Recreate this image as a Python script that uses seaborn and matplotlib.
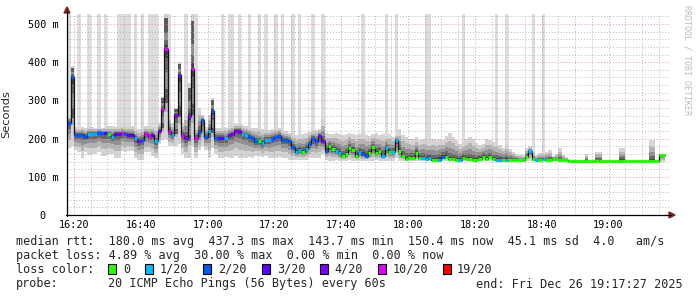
import numpy as np
import pandas as pd
import matplotlib
matplotlib.use("Agg")
import matplotlib.pyplot as plt
from matplotlib.patches import Rectangle, Polygon
import seaborn as sns

# ---------------- data (one value per minute, starting 16:18) ----------------
start_minute = 18  # minutes after 16:00

median_ms = [
    242, 362, 209, 209, 210, 205, 212, 212, 212, 215, 215, 215, 212, 205, 212, 212, 214, 212, 210, 210,
    201, 193, 196, 212, 206, 210, 193, 220, 278, 434, 220, 210, 262, 366, 210, 201, 259, 382, 202, 217,
    249, 205, 220, 273, 202, 202, 202, 201, 210, 213, 220, 220, 213, 210, 205, 201, 193, 193, 188, 197,
    197, 200, 204, 207, 197, 197, 193, 178, 165, 170, 166, 173, 186, 200, 193, 207, 194, 168, 180, 173,
    168, 162, 155, 160, 175, 170, 154, 164, 160, 155, 162, 177, 162, 168, 155, 175, 164, 164, 196, 168,
    154, 147, 149, 149, 162, 149, 149, 147, 149, 144, 144, 145, 153, 153, 146, 146, 144, 144, 149, 146,
    146, 144, 144, 147, 153, 147, 153, 147, 144, 144, 144, 144, 144, 144, 144, 144, 144, 153, 167, 146,
    144, 144, 147, 144, 144, 147, 147, 144, 144, 144, 142, 142, 142, 142, 142, 142, 142, 142, 142, 142,
    142, 142, 142, 142, 142, 142, 142, 142, 142, 142, 142, 142, 142, 142, 142, 142, 142, 157, 157,
]

lost_pings = [
    2, 2, 2, 2, 2, 2, 1, 1, 1, 2, 2, 3, 0, 1, 3, 3, 10, 2, 3, 3,
    1, 4, 2, 10, 10, 3, 1, 4, 10, 10, 10, 1, 4, 4, 10, 4, 4, 10, 10, 2,
    2, 2, 1, 2, 2, 3, 3, 1, 4, 4, 4, 4, 1, 1, 2, 2, 2, 0, 1, 1,
    1, 2, 2, 2, 2, 2, 2, 2, 1, 1, 0, 1, 2, 2, 2, 4, 4, 2, 0, 0,
    1, 1, 0, 0, 0, 0, 0, 1, 2, 2, 0, 0, 0, 0, 1, 1, 0, 1, 1, 0,
    0, 0, 0, 0, 0, 0, 1, 1, 1, 0, 0, 1, 2, 0, 0, 0, 0, 1, 0, 0,
    0, 0, 0, 0, 0, 0, 0, 0, 1, 1, 0, 1, 0, 0, 0, 0, 0, 0, 1, 0,
    1, 0, 1, 0, 0, 0, 0, 0, 0, 0, 0, 0, 0, 0, 0, 0, 0, 0, 0, 0,
    0, 0, 0, 0, 0, 0, 0, 0, 0, 0, 0, 0, 0, 0, 0, 0, 0, 0, 0,
]

smoke_low_ms = [
    175, 180, 170, 165, 150, 165, 158, 160, 160, 165, 155, 155, 160, 160, 150, 150, 168, 165, 168, 168,
    150, 145, 145, 165, 165, 155, 150, 185, 195, 200, 180, 180, 180, 185, 160, 150, 150, 180, 150, 170,
    180, 170, 150, 175, 160, 150, 150, 152, 150, 150, 155, 150, 150, 150, 152, 150, 155, 155, 152, 155,
    150, 150, 150, 152, 150, 150, 145, 145, 145, 145, 145, 145, 148, 148, 148, 148, 160, 145, 142, 142,
    143, 142, 142, 142, 145, 142, 142, 142, 142, 142, 142, 142, 145, 142, 142, 142, 142, 142, 150, 142,
    142, 142, 142, 142, 142, 142, 142, 142, 142, 142, 142, 142, 142, 142, 142, 142, 142, 142, 142, 142,
    142, 142, 142, 142, 142, 142, 142, 142, 142, 142, 142, 142, 142, 142, 142, 142, 142, 142, 142, 142,
    142, 142, 142, 142, 142, 142, 142, 142, 142, 142, 142, 142, 142, 142, 142, 142, 142, 142, 142, 142,
    142, 142, 142, 142, 142, 142, 142, 142, 142, 142, 142, 142, 142, 142, 142, 142, 142, 138, 138,
]

smoke_high_ms = [
    260, 390, 230, 228, 230, 228, 230, 230, 228, 230, 228, 228, 232, 232, 230, 232, 232, 232, 232, 232,
    228, 225, 228, 232, 232, 230, 230, 240, 310, 530, 260, 240, 280, 400, 240, 270, 345, 530, 230, 280,
    262, 230, 262, 305, 228, 228, 228, 228, 232, 235, 238, 238, 235, 232, 230, 228, 228, 226, 224, 222,
    222, 225, 228, 228, 222, 220, 215, 212, 210, 212, 212, 215, 218, 222, 222, 225, 250, 215, 212, 212,
    215, 212, 210, 212, 215, 212, 210, 212, 215, 210, 208, 212, 215, 210, 212, 208, 212, 205, 210, 225,
    210, 205, 200, 198, 205, 196, 200, 198, 195, 200, 196, 200, 196, 208, 214, 205, 196, 186, 190, 200,
    205, 198, 188, 184, 186, 200, 195, 190, 192, 184, 176, 186, 172, 165, 160, 158, 156, 175, 180, 166,
    158, 162, 160, 165, 170, 155, 160, 175, 158, 152, 142, 142, 142, 142, 142, 160, 142, 142, 166, 166,
    142, 142, 142, 142, 142, 176, 176, 142, 142, 142, 142, 142, 142, 142, 195, 195, 142, 160, 160,
]

# minutes (index) where the outermost pings reach beyond the top of the scale
outlier_minutes = [0, 3, 6, 9, 11, 15, 16, 17, 18, 20, 22, 24, 25, 26, 30, 35, 38, 46, 48, 49,
                   51, 54, 57, 59, 62, 64, 67, 69, 73, 76, 88, 95, 98, 107, 108, 118, 128, 131, 139, 142]
# minutes (index) where the pings are spread widely (dark smoke columns)
dense_minutes = [1, 28, 29, 32, 33, 36, 37, 43]

loss_labels = ["0", "1/20", "2/20", "3/20", "4/20", "10/20", "19/20"]
loss_bins = [0, 1, 2, 3, 4, 10, 19]
loss_colors = ["#26ff00", "#00b8ff", "#0059ff", "#5e00ff", "#7e00ff", "#dd00ff", "#ff0000"]

xtick_minutes = [20, 40, 60, 80, 100, 120, 140, 160, 180]
xtick_labels = ["16:20", "16:40", "17:00", "17:20", "17:40", "18:00", "18:20", "18:40", "19:00"]
ytick_values = [0, 100, 200, 300, 400, 500]
ytick_labels = ["0  ", "100 m", "200 m", "300 m", "400 m", "500 m"]

stats_line1 = "median rtt:  180.0 ms avg  437.3 ms max  143.7 ms min  150.4 ms now  45.1 ms sd  4.0   am/s"
stats_line2 = "packet loss: 4.89 % avg  30.00 % max  0.00 % min  0.00 % now"
probe_text = "20 ICMP Echo Pings (56 Bytes) every 60s"
end_text = "end: Fri Dec 26 19:17:27 2025"

# ---------------- figure ----------------
sns.set_style("white")
plt.rcParams["font.family"] = ["DejaVu Sans Mono", "DejaVu Sans"]

W, H = 697, 297
fig = plt.figure(figsize=(W / 100, H / 100), dpi=100, facecolor="white")


def fx(x):
    return x / W


def fy(y):
    return 1 - y / H


ax = fig.add_axes([fx(67), fy(215), (669 - 67) / W, (215 - 14) / H])
ax.set_facecolor("white")
YMAX = 526
XMIN, XMAX = 17.9, 198.1
ax.set_xlim(XMIN, XMAX)
ax.set_ylim(0, YMAX)

df = pd.DataFrame({
    "minute": start_minute + np.arange(len(median_ms)),
    "median": median_ms,
    "lost": lost_pings,
    "lo": smoke_low_ms,
    "hi": smoke_high_ms,
})
assert len(df) == len(lost_pings) == len(smoke_low_ms) == len(smoke_high_ms)

# smoke: outliers to top of scale
for i in outlier_minutes:
    ax.bar(df.minute[i], YMAX - df.hi[i], bottom=df.hi[i], width=1, align="edge",
           color="#dcdcdc", lw=0, zorder=1)

# smoke: nested bands of decreasing spread
med = df["median"].to_numpy(float)
lo = df["lo"].to_numpy(float)
hi = df["hi"].to_numpy(float)
outer_levels = [(1.0, "#d4d4d4"), (0.7, "#b4b4b4")]
inner_levels = [(0.45, "#909090"), (0.25, "#686868"), (0.1, "#404040")]
for f, col in outer_levels:
    low = med - (med - lo) * f
    up = med + (hi - med) * f
    ax.bar(df.minute, up - low, bottom=low, width=1, align="edge", color=col, lw=0, zorder=2)
for i in dense_minutes:
    low = med[i] - (med[i] - lo[i]) * 0.6
    up = med[i] + (hi[i] - med[i]) * 0.85
    ax.bar(df.minute[i], up - low, bottom=low, width=1, align="edge", color="#5a5a5a", lw=0, zorder=2)
for f, col in inner_levels:
    low = med - (med - lo) * f
    up = med + (hi - med) * f
    ax.bar(df.minute, up - low, bottom=low, width=1, align="edge", color=col, lw=0, zorder=2)

# grid (drawn over the smoke, as rrdtool does)
for v in range(0, YMAX, 20):
    if v % 100 == 0:
        continue
    ax.axhline(v, color="#a8a8a8", alpha=0.8, lw=0.7, ls=(0, (1, 2)), zorder=2.5)
for m in range(20, 200, 5):
    if m % 20 == 0:
        continue
    ax.axvline(m, color="#a8a8a8", alpha=0.8, lw=0.7, ls=(0, (1, 2)), zorder=2.5)
for v in ytick_values[1:]:
    ax.axhline(v, color="#dd8080", alpha=0.8, lw=0.7, ls=(0, (1, 2)), zorder=2.6)
for m in xtick_minutes:
    ax.axvline(m, color="#dd8080", alpha=0.8, lw=0.7, ls=(0, (1, 2)), zorder=2.6)

# median line (step)
step_x = list(df.minute) + [df.minute.iloc[-1] + 1]
step_y = list(df["median"]) + [df["median"].iloc[-1]]
sns.lineplot(x=step_x, y=step_y, drawstyle="steps-post", color="#111111", lw=0.9, ax=ax, zorder=3)


def loss_color(n):
    idx = 0
    for k, b in enumerate(loss_bins):
        if n >= b:
            idx = k
    return loss_colors[idx]


colors = [loss_color(n) for n in df.lost]
ax.hlines(df["median"], df.minute, df.minute + 1, colors=colors, lw=2.3, zorder=4, capstyle="butt")

# axes styling
for s in ax.spines.values():
    s.set_visible(False)
ax.set_xticks(xtick_minutes)
ax.set_xticklabels(xtick_labels)
ax.set_yticks(ytick_values)
ax.set_yticklabels(ytick_labels)
ax.tick_params(axis="both", length=0, labelsize=7.3, colors="black")
ax.tick_params(axis="x", pad=3.5)
ax.tick_params(axis="y", pad=6)
ax.set_ylabel("Seconds", family="DejaVu Sans", fontsize=8.2, labelpad=12)
ax.grid(False)

# axis lines + arrows
fig.add_artist(plt.Line2D([fx(67), fx(67)], [fy(215.5), fy(11)], color="black", lw=0.9))
fig.add_artist(plt.Line2D([fx(66), fx(671)], [fy(215), fy(215)], color="black", lw=0.9))
fig.add_artist(Polygon([(fx(64), fy(13)), (fx(70), fy(13)), (fx(67), fy(7))], closed=True,
                       color="#7f1f1f", transform=fig.transFigure))
fig.add_artist(Polygon([(fx(669), fy(212)), (fx(669), fy(218)), (fx(675), fy(215))], closed=True,
                       color="#7f1f1f", transform=fig.transFigure))

# watermark
fig.text(fx(687), fy(60), "RRDTOOL / TOBI OETIKER", rotation=270, ha="center", va="center",
         fontsize=6.0, color="#bcbcbc")

# legend / stats text
FS = 8.5
fig.text(fx(16), fy(241.5), stats_line1, ha="left", va="center", fontsize=FS)
fig.text(fx(16), fy(255.5), stats_line2, ha="left", va="center", fontsize=FS)
fig.text(fx(16), fy(269.5), "loss color:", ha="left", va="center", fontsize=FS)
box_x = [108, 145, 203, 262, 320, 378, 443]
lab_x = [123, 160, 218, 277, 334, 393, 457]
for bx, lx, lab, col in zip(box_x, lab_x, loss_labels, loss_colors):
    fig.add_artist(Rectangle((fx(bx), fy(273.5)), 8 / W, 9.5 / H, facecolor=col, edgecolor="black",
                             lw=0.8, transform=fig.transFigure))
    fig.text(fx(lx), fy(269.5), lab, ha="left", va="center", fontsize=FS)
fig.text(fx(16), fy(284), "probe:", ha="left", va="center", fontsize=FS)
fig.text(fx(108), fy(284), probe_text, ha="left", va="center", fontsize=FS)
fig.text(fx(683), fy(284), end_text, ha="right", va="center", fontsize=FS)

fig.savefig("out.png", dpi=100, facecolor="white")
